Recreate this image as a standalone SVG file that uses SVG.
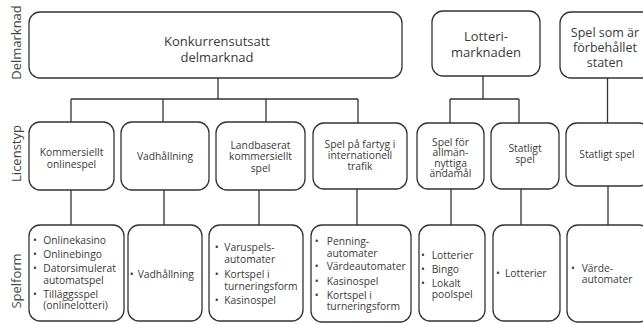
<svg xmlns="http://www.w3.org/2000/svg" width="643" height="324" viewBox="0 0 643 324">
<style>
.box{fill:#fff;stroke:#333;stroke-width:1.3}
.t{font-family:"Open Sans","Liberation Sans",sans-serif;fill:#3a3a3a;font-size:10.3px}
.c{text-anchor:middle}
.big{font-size:13px}
.lab{font-family:"Open Sans","Liberation Sans",sans-serif;fill:#444;font-size:13px;text-anchor:middle}
.con{stroke:#333;stroke-width:1.3;fill:none}
</style>
<rect width="643" height="324" fill="#fff"/>
<g id="row-labels">
<text class="lab" transform="translate(20.5,42.5) rotate(-90)">Delmarknad</text>
<text class="lab" transform="translate(20.5,153.5) rotate(-90)">Licenstyp</text>
<text class="lab" transform="translate(20.5,281) rotate(-90)">Spelform</text>
</g>
<g id="connectors">
<path class="con" d="M218 78V99M71 99H358M71 99V122M163 99V122M266 99V122M358 99V123"/>
<path class="con" d="M483 76V99M450 99H519M450 99V123M519 99V123"/>
<path class="con" d="M607.5 78V123"/>
<path class="con" d="M71 190V225M164 190V225M259 190V225M357 189V225M451 189V225M521 189V225M608 186V225"/>
</g>
<g id="konkurrens">
<rect class="box" x="29" y="12" width="373" height="66" rx="11"/>
<text class="t c big" x="217" y="45.5">Konkurrensutsatt</text>
<text class="t c big" x="217" y="62">delmarknad</text>
</g>
<g id="lotterimarknaden">
<rect class="box" x="432" y="11" width="108" height="65" rx="11"/>
<text class="t c big" x="486" y="40.5">Lotteri-</text>
<text class="t c big" x="486" y="56.5">marknaden</text>
</g>
<g id="staten">
<rect class="box" x="560" y="12" width="94" height="66" rx="11"/>
<text class="t c" style="font-size:12.5px" x="605" y="36.5">Spel som är</text>
<text class="t c" style="font-size:12.5px" x="605" y="51.5">förbehållet</text>
<text class="t c" style="font-size:12.5px" x="605" y="66.5">staten</text>
</g>
<g id="lic-kommersiellt">
<rect class="box" x="29" y="122" width="85" height="68" rx="11"/>
<text class="t c" x="71.5" y="156">Kommersiellt</text>
<text class="t c" x="71.5" y="167.5">onlinespel</text>
</g>
<g id="lic-vadhallning">
<rect class="box" x="121" y="122" width="88" height="68" rx="11"/>
<text class="t c" x="165" y="160">Vadhållning</text>
</g>
<g id="lic-landbaserat">
<rect class="box" x="216" y="122" width="89" height="68" rx="11"/>
<text class="t c" x="260.5" y="148.5">Landbaserat</text>
<text class="t c" x="260.5" y="160">kommersiellt</text>
<text class="t c" x="260.5" y="171.5">spel</text>
</g>
<g id="lic-fartyg">
<rect class="box" x="313" y="123" width="94" height="66" rx="11"/>
<text class="t c" x="360" y="147.5">Spel på fartyg i</text>
<text class="t c" x="360" y="158.5">internationell</text>
<text class="t c" x="360" y="169.5">trafik</text>
</g>
<g id="lic-allmannyttiga">
<rect class="box" x="417" y="123" width="67" height="66" rx="11"/>
<text class="t c" x="450.5" y="146">Spel för</text>
<text class="t c" x="450.5" y="156.3">allmän-</text>
<text class="t c" x="450.5" y="166.6">nyttiga</text>
<text class="t c" x="450.5" y="177">ändamål</text>
</g>
<g id="lic-statligt">
<rect class="box" x="491" y="123" width="68" height="66" rx="11"/>
<text class="t c" x="525" y="151.5">Statligt</text>
<text class="t c" x="525" y="163">spel</text>
</g>
<g id="lic-statligt2">
<rect class="box" x="566" y="123" width="84" height="63" rx="11"/>
<text class="t c" x="607" y="158">Statligt spel</text>
</g>
<g id="form-online">
<rect class="box" x="29" y="225" width="95" height="96" rx="11"/>
<text class="t c" x="35" y="244">•</text><text class="t" x="43.3" y="244">Onlinekasino</text>
<text class="t c" x="35" y="258">•</text><text class="t" x="43.3" y="258">Onlinebingo</text>
<text class="t c" x="35" y="272">•</text><text class="t" x="43.3" y="272">Datorsimulerat</text>
<text class="t" x="43.3" y="283.5">automatspel</text>
<text class="t c" x="35" y="297.5">•</text><text class="t" x="43.3" y="297.5">Tilläggsspel</text>
<text class="t" x="43.3" y="309">(onlinelotteri)</text>
</g>
<g id="form-vadhallning">
<rect class="box" x="128" y="225" width="74" height="96" rx="11"/>
<text class="t c" x="131.7" y="278">•</text><text class="t" x="137.7" y="278">Vadhållning</text>
</g>
<g id="form-landbaserat">
<rect class="box" x="209" y="225" width="94" height="96" rx="11"/>
<text class="t c" x="216.7" y="251.3">•</text><text class="t" x="224.3" y="251.3">Varuspels-</text>
<text class="t" x="224.3" y="262.8">automater</text>
<text class="t c" x="216.7" y="278">•</text><text class="t" x="224.3" y="278">Kortspel i</text>
<text class="t" x="224.3" y="289.6">turneringsform</text>
<text class="t c" x="216.7" y="303.6">•</text><text class="t" x="224.3" y="303.6">Kasinospel</text>
</g>
<g id="form-fartyg">
<rect class="box" x="311" y="225" width="100" height="97" rx="11"/>
<text class="t c" x="316.7" y="245.3">•</text><text class="t" x="326.7" y="245.3">Penning-</text>
<text class="t" x="326.7" y="256.6">automater</text>
<text class="t c" x="316.7" y="270.4">•</text><text class="t" x="326.7" y="270.4">Värdeautomater</text>
<text class="t c" x="316.7" y="284.6">•</text><text class="t" x="326.7" y="284.6">Kasinospel</text>
<text class="t c" x="316.7" y="298.7">•</text><text class="t" x="326.7" y="298.7">Kortspel i</text>
<text class="t" x="326.7" y="310.3">turneringsform</text>
</g>
<g id="form-allmannyttiga">
<rect class="box" x="419" y="225" width="66" height="96" rx="11"/>
<text class="t c" x="423" y="259">•</text><text class="t" x="431.7" y="259">Lotterier</text>
<text class="t c" x="423" y="273">•</text><text class="t" x="431.7" y="273">Bingo</text>
<text class="t c" x="423" y="286.7">•</text><text class="t" x="431.7" y="286.7">Lokalt</text>
<text class="t" x="431.7" y="298.3">poolspel</text>
</g>
<g id="form-statligt">
<rect class="box" x="493" y="225" width="67" height="96" rx="11"/>
<text class="t c" x="498" y="277.3">•</text><text class="t" x="505" y="277.3">Lotterier</text>
</g>
<g id="form-statligt2">
<rect class="box" x="567" y="225" width="83" height="97" rx="11"/>
<text class="t c" x="573" y="271.7">•</text><text class="t" x="581.7" y="271.7">Värde-</text>
<text class="t" x="581.7" y="283.3">automater</text>
</g>
</svg>
